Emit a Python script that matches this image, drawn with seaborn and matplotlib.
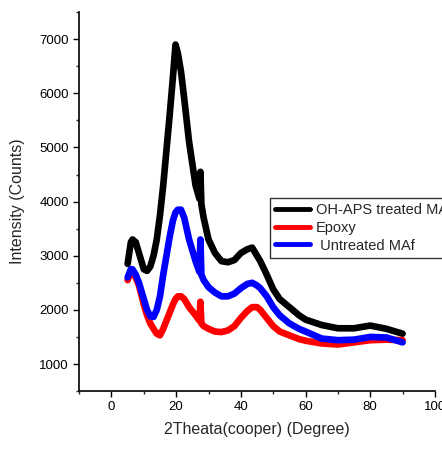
import matplotlib
matplotlib.use("Agg")
import matplotlib.pyplot as plt
import seaborn as sns
import pandas as pd
from matplotlib.ticker import MultipleLocator

# values (2theta in degrees, intensity in counts)
two_theta = [5, 6, 6.5, 7.5, 8.5, 10, 11, 12, 13, 14, 15, 16, 17, 18, 19, 19.8, 20.5,
             21.5, 22.5, 24, 26, 27.2, 27.5, 27.8, 28.5, 30, 32, 34, 36, 38, 40, 42,
             43.5, 45, 46, 48, 50, 52, 55, 58, 60, 65, 70, 75, 80, 85, 90]

oh_aps = [2850, 3250, 3300, 3250, 3050, 2750, 2720, 2800, 3000, 3300, 3750, 4300, 4950,
          5600, 6300, 6900, 6750, 6400, 5900, 5100, 4300, 4050, 4550, 3950, 3700, 3300,
          3050, 2900, 2880, 2920, 3050, 3120, 3150, 3000, 2900, 2650, 2380, 2200, 2050,
          1900, 1820, 1720, 1660, 1660, 1710, 1650, 1560]

epoxy = [2550, 2700, 2700, 2600, 2450, 2100, 1900, 1750, 1650, 1560, 1530, 1650, 1800,
         1950, 2100, 2200, 2250, 2250, 2200, 2050, 1900, 1800, 2150, 1750, 1700, 1650,
         1600, 1590, 1620, 1700, 1850, 1980, 2050, 2050, 2000, 1850, 1700, 1600, 1530,
         1460, 1430, 1380, 1360, 1400, 1440, 1450, 1440]

untreated = [2600, 2750, 2750, 2650, 2500, 2200, 2000, 1880, 1870, 2000, 2250, 2650,
             3000, 3350, 3650, 3800, 3850, 3850, 3700, 3300, 2900, 2700, 3300, 2650,
             2550, 2420, 2320, 2250, 2250, 2300, 2400, 2480, 2500, 2450, 2400, 2250,
             2050, 1900, 1750, 1650, 1600, 1470, 1440, 1450, 1500, 1490, 1400]

labels = ["OH-APS treated MAf", "Epoxy", " Untreated MAf"]
colors = ["black", "red", "blue"]

sns.set_style("ticks")
plt.rcParams['font.family'] = ['Liberation Sans', 'DejaVu Sans']

fig = plt.figure(figsize=(4.42, 4.49), dpi=100)
ax = fig.add_axes([0.179, 0.129, 0.805, 0.844])

for vals, lab, col in zip([oh_aps, epoxy, untreated], labels, colors):
    df = pd.DataFrame({"x": two_theta, "y": vals})
    sns.lineplot(data=df, x="x", y="y", ax=ax, color=col, lw=4.8, label=lab,
                 estimator=None, sort=False)

ax.set_xlim(-10, 100)
ax.set_ylim(500, 7500)
ax.xaxis.set_major_locator(MultipleLocator(20))
ax.xaxis.set_minor_locator(MultipleLocator(10))
ax.yaxis.set_major_locator(MultipleLocator(1000))
ax.yaxis.set_minor_locator(MultipleLocator(500))
ax.set_yticks([1000, 2000, 3000, 4000, 5000, 6000, 7000])
ax.tick_params(which="major", direction="out", length=4, width=1, labelsize=9.5, colors="black")
ax.tick_params(which="minor", direction="out", length=2.5, width=1)
for s in ["top", "right"]:
    ax.spines[s].set_visible(False)
for s in ["left", "bottom"]:
    ax.spines[s].set_linewidth(1.2)
    ax.spines[s].set_color("black")

ax.set_xlabel("2Theata(cooper) (Degree)", fontsize=11.5, labelpad=6)
ax.set_ylabel("Intensity (Counts)", fontsize=11.5, labelpad=10)

leg = ax.legend(loc="upper left", bbox_to_anchor=(0.537, 0.509), fontsize=10.5,
                frameon=True, fancybox=False, handlelength=2.4, handletextpad=0.4,
                labelspacing=0.25, borderpad=0.35, borderaxespad=0)
leg.get_frame().set_edgecolor("black")
leg.get_frame().set_linewidth(1.0)
for line in leg.get_lines():
    line.set_linewidth(3.5)

fig.savefig("out.png", dpi=100)
